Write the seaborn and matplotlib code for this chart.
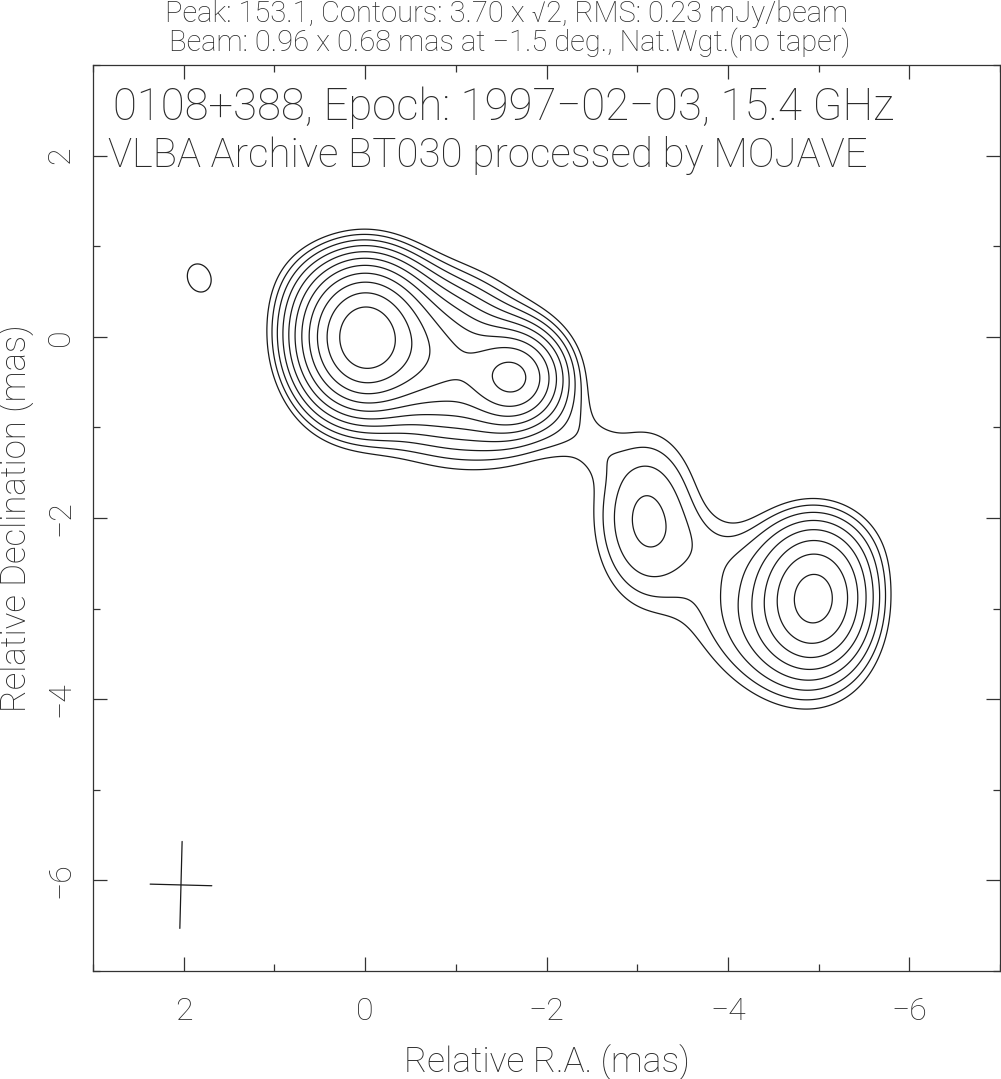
import numpy as np
import matplotlib
matplotlib.use("Agg")
import matplotlib.pyplot as plt
import seaborn as sns
from matplotlib.ticker import MultipleLocator

# ---- data: Gaussian model components
# (RA offset mas, Dec offset mas, peak mJy/beam, sigma major, sigma minor, PA deg)
comp_ra   = [0.00, 0.00, 0.55, -0.85, -1.65, -0.95, -2.58, -3.10, -4.97, -4.45, -3.80, 1.83, 0.35, -0.95, -1.30, -2.25, -4.90]
comp_dec  = [0.00, 0.00, 0.55, -0.28, -0.45, -0.45, -1.25, -2.00, -2.88, -3.20, -2.30, 0.65, -0.55, 0.25, -0.95, -1.00, -2.30]
comp_peak = [37.0, 116.0, 3.0, 30.0, 56.0, 7.0, 1.3, 11.0, 43.0, 9.0, 1.5, 4.5, 3.0, 4.0, 3.5, 2.3, 4.0]
comp_smaj = [0.41, 0.43, 0.35, 0.42, 0.30, 0.85, 0.20, 0.62, 0.45, 0.70, 0.35, 0.25, 0.35, 0.50, 0.50, 0.30, 0.55]
comp_smin = [0.29, 0.40, 0.35, 0.40, 0.30, 0.72, 0.18, 0.38, 0.36, 0.50, 0.25, 0.20, 0.30, 0.35, 0.30, 0.25, 0.35]
comp_pa   = [0.0, 0.0, 0.0, 75.0, 0.0, 75.0, 0.0, 0.0, 0.0, 50.0, 60.0, 20.0, 0.0, 70.0, 80.0, 0.0, 90.0]

contour_base = 3.70
contour_factor = np.sqrt(2)
n_levels = 11

beam_ra, beam_dec = 2.03, -6.05
beam_maj, beam_min, beam_pa = 0.96, 0.68, -1.5

x_ticks = [2, 0, -2, -4, -6]
y_ticks = [2, 0, -2, -4, -6]

title1 = "Peak: 153.1, Contours: 3.70 x \u221a2, RMS: 0.23 mJy/beam"
title2 = "Beam: 0.96 x 0.68 mas at \u22121.5 deg., Nat.Wgt.(no taper)"
inner1 = "0108+388, Epoch: 1997\u221202\u221203, 15.4 GHz"
inner2 = "VLBA Archive BT030 processed by MOJAVE"

# ---- build image
sns.set_style("white")
plt.rcParams['font.family'] = ['Roboto', 'DejaVu Sans']
plt.rcParams['font.weight'] = 'light'
plt.rcParams['axes.labelweight'] = 'light'
TXT = '#2a2a2a'

xs = np.linspace(3, -7, 600)
ys = np.linspace(-7, 3, 600)
X, Y = np.meshgrid(xs, ys)
Z = np.zeros_like(X)
for ra, de, pk, sa, sb, pa in zip(comp_ra, comp_dec, comp_peak, comp_smaj, comp_smin, comp_pa):
    t = np.deg2rad(pa)
    dx, dy = X - ra, Y - de
    u = dx * np.sin(t) + dy * np.cos(t)
    v = dx * np.cos(t) - dy * np.sin(t)
    Z += pk * np.exp(-0.5 * ((u / sa) ** 2 + (v / sb) ** 2))

levels = contour_base * contour_factor ** np.arange(n_levels)

fig = plt.figure(figsize=(10.01, 10.79), dpi=100)
ax = fig.add_axes([93/1001, 1-971/1079, 907/1001, 906/1079])
ax.contour(X, Y, Z, levels=levels, colors='#1a1a1a', linewidths=0.9)

# beam cross
t = np.deg2rad(beam_pa)
ax.plot([beam_ra + 0.5*beam_maj*np.sin(t), beam_ra - 0.5*beam_maj*np.sin(t)],
        [beam_dec + 0.5*beam_maj*np.cos(t), beam_dec - 0.5*beam_maj*np.cos(t)], color='#1a1a1a', lw=0.9)
ax.plot([beam_ra + 0.5*beam_min*np.cos(t), beam_ra - 0.5*beam_min*np.cos(t)],
        [beam_dec - 0.5*beam_min*np.sin(t), beam_dec + 0.5*beam_min*np.sin(t)], color='#1a1a1a', lw=0.9)

ax.set_xlim(3, -7)
ax.set_ylim(-7, 3)
ax.xaxis.set_minor_locator(MultipleLocator(1))
ax.yaxis.set_minor_locator(MultipleLocator(1))
ax.set_xticks(x_ticks)
ax.set_yticks(y_ticks)
ax.set_xticklabels([str(v).replace('-', '\u2212') for v in x_ticks])
ax.set_yticklabels([str(v).replace('-', '\u2212') for v in y_ticks], rotation=90, va='center')
ax.tick_params(which='both', direction='in', top=True, right=True, bottom=True, left=True,
               color='#333333', width=0.9)
ax.tick_params(which='major', length=10)
ax.tick_params(which='minor', length=5)
ax.tick_params(axis='x', which='major', pad=19, labelsize=23, labelcolor=TXT)
ax.tick_params(axis='y', which='major', pad=13, labelsize=23, labelcolor=TXT)
for s in ax.spines.values():
    s.set_color('#333333')
    s.set_linewidth(0.9)

ax.set_xlabel("Relative R.A. (mas)", fontsize=25.5, color=TXT, labelpad=13)
ax.set_ylabel("Relative Declination (mas)", fontsize=25, color=TXT, labelpad=8)

fig.text(507/1001, 1-14/1079, title1, ha='center', va='center', fontsize=21, color=TXT)
fig.text(510/1001, 1-43/1079, title2, ha='center', va='center', fontsize=21, color=TXT)
ax.text((113-93)/907, (971-108)/906, inner1, transform=ax.transAxes,
        ha='left', va='center', fontsize=31.5, color=TXT)
ax.text((108-93)/907, (971-155)/906, inner2, transform=ax.transAxes,
        ha='left', va='center', fontsize=29, color=TXT)

fig.savefig("out.png", dpi=100)
